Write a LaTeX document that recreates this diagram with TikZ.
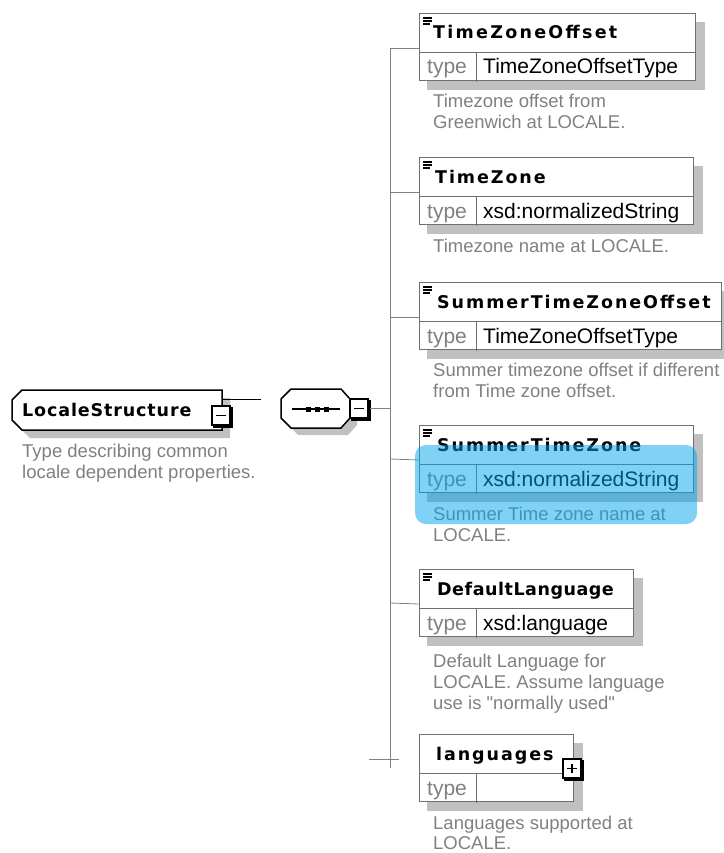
\documentclass[tikz,border=0pt]{standalone}
\usepackage{fontspec}
\setmainfont[Ligatures=TeXOff]{Liberation Sans}
\newfontfamily\elemfont[LetterSpace=11]{DejaVu Sans}
\newfontfamily\typefont[LetterSpace=5]{DejaVu Sans}
\usetikzlibrary{calc}

\definecolor{descgray}{RGB}{128,128,128}
\definecolor{shadowgray}{RGB}{192,192,192}
\definecolor{linegray}{RGB}{128,128,128}
\definecolor{boxline}{RGB}{112,112,112}
\definecolor{hilite}{RGB}{0,166,235}

\tikzset{
  conn/.style={draw=linegray, line width=0.8pt},
  elemline/.style={draw=boxline, line width=0.8pt},
  elemhead/.style={elemline, fill=white, anchor=north west, minimum height=39pt, inner sep=0pt},
  elemrow/.style={elemline, fill=white, anchor=north west, minimum height=28pt, inner sep=0pt},
  elemtitle/.style={anchor=base west, inner sep=0pt, font=\elemfont\bfseries\fontsize{17.5}{20}\selectfont},
  typelbl/.style={anchor=base west, inner sep=0pt, text=descgray, font=\fontsize{21}{24}\selectfont},
  typeval/.style={anchor=base west, inner sep=0pt, font=\fontsize{21}{24}\selectfont},
  desc/.style={anchor=base west, inner sep=0pt, text=descgray, font=\fontsize{18.5}{21}\selectfont},
  iconline/.style={draw=black, line width=1.4pt},
  heavy/.style={draw=black, line width=1.5pt},
}

% element box with its type row and shadow: id, left, top, right, type name
\newcommand\elementbox[5]{%
  \fill[shadowgray] (#2+8,#3+9) rectangle (#4+10,#3+77);
  \node[elemhead, minimum width=#4-#2] (#1) at (#2,#3) {};
  \node[elemrow, minimum width=#4-#2] (#1-t) at (#2,#3+39) {};
  \draw[elemline] (#2+57,#3+39) -- (#2+57,#3+69);
  \node[typelbl] (#1-k) at (#2+8,#3+61) {type};
  \node[typeval] (#1-v) at (#2+64,#3+61) {#5};
}
% the three-bar mark in an element header: left, top
\newcommand\elemicon[2]{%
  \draw[iconline] (#1+4,#2+5) -- +(9,0) (#1+4,#2+8) -- +(9,0) (#1+4,#2+11) -- +(7,0);
}
% collapse / expand button: left, top, with or without the vertical bar
\newcommand\togglebox[3]{%
  \draw[draw=black, line width=1.2pt] (#1+2,#2+2) rectangle (#1+20,#2+21);
  \filldraw[fill=white, draw=black, line width=1.4pt] (#1,#2) rectangle (#1+18,#2+19);
  \draw[black, line width=1.3pt] (#1+4,#2+9.5) -- (#1+14,#2+9.5);
  \ifnum#3=1 \draw[black, line width=1.3pt] (#1+9,#2+5) -- (#1+9,#2+14);\fi
}

\begin{document}
\begin{tikzpicture}[x=1pt,y=-1pt]
\useasboundingbox (0,0) rectangle (723,853);

% ---- complex type LocaleStructure ----
\fill[shadowgray] (30,398) -- (230,398) -- (230,438) -- (30,438) -- (20,428) -- (20,408) -- cycle;
\filldraw[heavy, fill=white] (22,390) -- (222,390) -- (222,430) -- (22,430) -- (12,420) -- (12,400) -- cycle;
\node[anchor=base west, inner sep=0pt, font=\typefont\bfseries\fontsize{17.5}{20}\selectfont] (ls) at (22,416) {LocaleStructure};
\togglebox{212}{406}{0}
\coordinate (ls-out) at (222,399);
\coordinate (ls-end) at (261,399);
\draw[black, line width=1pt] (ls-out) -- (ls-end);
\node[desc] (ls-d1) at (22,457) {Type describing common};
\node[desc] (ls-d2) at (22,478) {locale dependent properties.};

% ---- sequence compositor ----
\fill[shadowgray] (298,396) -- (348,396) -- (357,406) -- (357,425) -- (348,435) -- (298,435) -- (288,425) -- (288,406) -- cycle;
\filldraw[heavy, fill=white] (291,389) -- (341,389) -- (350,399) -- (350,418) -- (341,428) -- (291,428) -- (281,418) -- (281,399) -- cycle;
\coordinate (seq) at (316,409);
\draw[black, line width=1.2pt] (292,409) -- (340,409);
\foreach \sx in {308,317,326} \fill[black] (\sx-2.5,406.5) rectangle (\sx+2.5,411.5);
\togglebox{350}{399}{0}
\coordinate (seq-out) at (370,408);
\coordinate (bus-seq) at (390,408);
\draw[conn] (seq-out) -- (bus-seq);

% ---- child elements ----
\elementbox{tzo}{419}{13}{695}{TimeZoneOffsetType}
\elemicon{419}{13}
\node[elemtitle] (tzo-n) at (433,39) {\addfontfeature{LetterSpace=13}TimeZoneOffset};
\node[desc] (tzo-d1) at (433,108) {Timezone offset from};
\node[desc] (tzo-d2) at (433,129) {Greenwich at LOCALE.};

\elementbox{tz}{419}{157}{693}{xsd:normalizedString}
\elemicon{419}{157}
\node[elemtitle] (tz-n) at (435,183) {TimeZone};
\node[desc] (tz-d1) at (433,252) {Timezone name at LOCALE.};

\elementbox{stzo}{419}{282}{721}{TimeZoneOffsetType}
\elemicon{419}{282}
\node[elemtitle] (stzo-n) at (437,308) {SummerTimeZoneOffset};
\node[desc] (stzo-d1) at (433,376) {Summer timezone offset if different};
\node[desc] (stzo-d2) at (433,397) {from Time zone offset.};

\elementbox{stz}{419}{425}{693}{xsd:normalizedString}
\elemicon{419}{425}
\node[elemtitle] (stz-n) at (437,451) {SummerTimeZone};
\node[desc] (stz-d1) at (433,520) {Summer Time zone name at};
\node[desc] (stz-d2) at (433,541) {LOCALE.};

\elementbox{dl}{419}{569}{633}{xsd:language}
\elemicon{419}{569}
\node[elemtitle] (dl-n) at (437,595) {\addfontfeature{LetterSpace=3}DefaultLanguage};
\node[desc] (dl-d1) at (433,667) {Default Language for};
\node[desc] (dl-d2) at (433,688) {LOCALE. Assume language};
\node[desc] (dl-d3) at (433,709) {use is "normally used"};

\elementbox{lang}{419}{734}{573}{}
\node[elemtitle] (lang-n) at (436,760) {languages};
\togglebox{563}{759}{1}
\node[desc] (lang-d1) at (433,829) {Languages supported at};
\node[desc] (lang-d2) at (433,849) {LOCALE.};

% ---- connector bus ----
\coordinate (bus-end) at (390,768);
\coordinate (lang-tick-a) at (369,759);
\coordinate (lang-tick-b) at (399,759);
\draw[conn] ([yshift=4pt]tzo-t.north west) -| (bus-end);
\draw[conn] (390,192) -- ([yshift=4pt]tz-t.north west);
\draw[conn] (390,317) -- ([yshift=4pt]stzo-t.north west);
\draw[conn] (390,459) -- ([yshift=4pt]stz-t.north west);
\draw[conn] (390,603) -- ([yshift=4pt]dl-t.north west);
\draw[conn] (lang-tick-a) -- (lang-tick-b);

% ---- selection highlight ----
\fill[hilite, opacity=0.5, rounded corners=11pt] (415,445) rectangle (697,524);
\end{tikzpicture}
\end{document}
